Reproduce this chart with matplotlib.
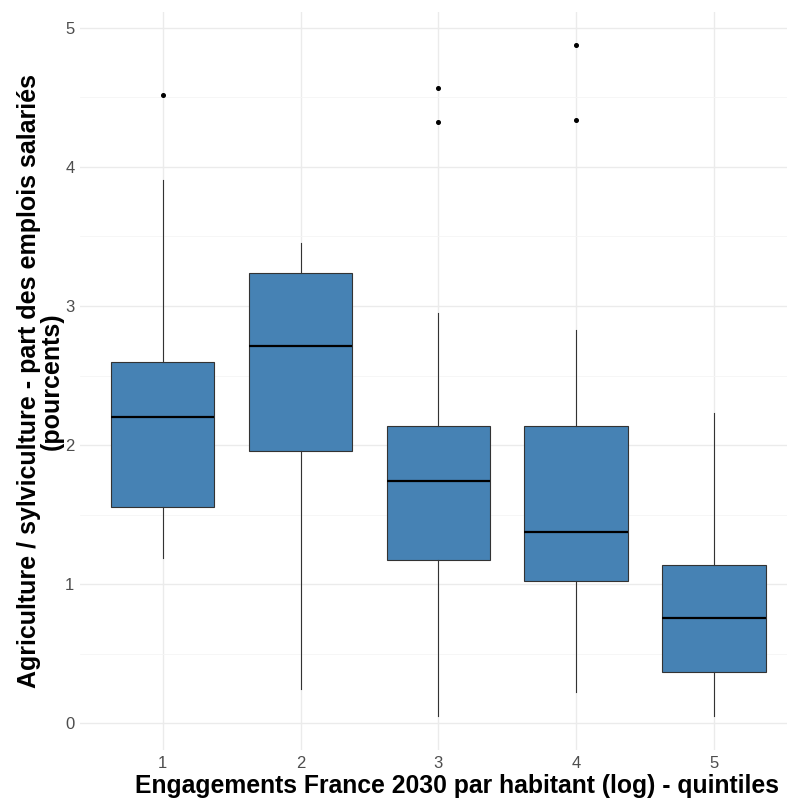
import matplotlib.pyplot as plt
import numpy as np

plt.rcParams['font.family'] = ['Liberation Sans', 'DejaVu Sans']

quintiles = [1, 2, 3, 4, 5]
whislo = [1.19, 0.245, 0.05, 0.22, 0.05]
q1 = [1.555, 1.957, 1.173, 1.02, 0.367]
med = [2.20, 2.712, 1.741, 1.374, 0.755]
q3 = [2.597, 3.237, 2.137, 2.137, 1.137]
whishi = [3.906, 3.453, 2.95, 2.827, 2.23]
outliers = [[4.518], [], [4.568, 4.324], [4.878, 4.338], []]

stats = []
for i in range(len(quintiles)):
    stats.append(dict(whislo=whislo[i], q1=q1[i], med=med[i], q3=q3[i],
                      whishi=whishi[i], fliers=outliers[i]))

fig = plt.figure(figsize=(7.87, 7.98), dpi=100)
ax = fig.add_axes([80 / 787, 48 / 798, 707 / 787, 738 / 798])

ax.bxp(stats, positions=quintiles, widths=0.75, patch_artist=True, showcaps=False,
       boxprops=dict(facecolor='#4682B4', edgecolor='#333333', linewidth=0.8),
       medianprops=dict(color='black', linewidth=1.6),
       whiskerprops=dict(color='#333333', linewidth=0.8),
       flierprops=dict(marker='o', markersize=2.6, markerfacecolor='black',
                       markeredgecolor='black'))

ax.set_xlim(0.4, 5.53)
ax.set_ylim(-0.194, 5.115)
ax.set_yticks([0, 1, 2, 3, 4, 5])
ax.set_yticks([0.5, 1.5, 2.5, 3.5, 4.5], minor=True)
ax.set_xticks(quintiles)
ax.set_xticklabels([str(q) for q in quintiles])

ax.grid(True, which='major', color='#EBEBEB', linewidth=1.0)
ax.grid(True, which='minor', axis='y', color='#F5F5F5', linewidth=0.6)
ax.set_axisbelow(True)
for s in ax.spines.values():
    s.set_visible(False)
ax.tick_params(which='both', length=0, labelsize=12, labelcolor='#4D4D4D', pad=4)

ax.set_xlabel('Engagements France 2030 par habitant (log) - quintiles',
              fontsize=17.8, fontweight='bold')
ax.xaxis.set_label_coords(0.533, -0.058, transform=ax.transAxes)
ax.xaxis.label.set_va('baseline')
ax.set_ylabel('Agriculture / sylviculture - part des emplois salariés\n(pourcents)',
              fontsize=18, fontweight='bold', linespacing=0.92)
ax.yaxis.set_label_coords(-0.023, 0.5, transform=ax.transAxes)
ax.yaxis.label.set_va('bottom')

fig.savefig('out.png', dpi=100)
